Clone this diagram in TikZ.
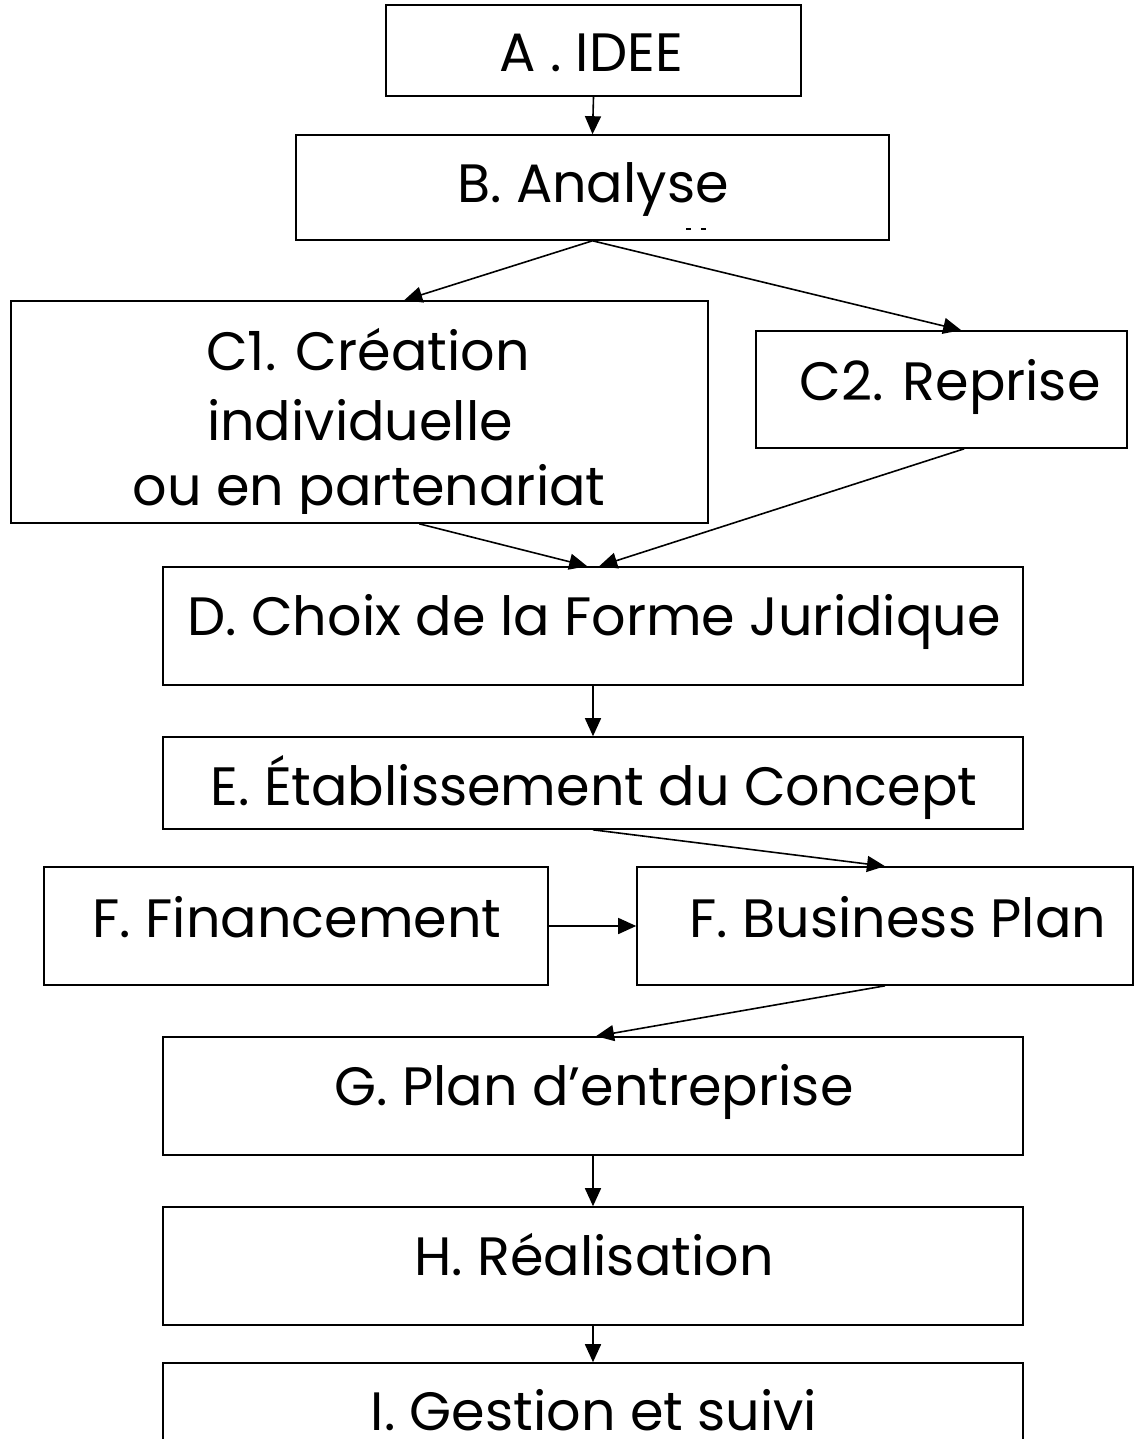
\documentclass[tikz,border=0pt]{standalone}
\usepackage{fontspec}
\setmainfont{Poppins}
\usetikzlibrary{arrows.meta}
\begin{document}
\begin{tikzpicture}[x=1pt,y=-1pt,
  box/.style={draw, line width=1.6pt, rectangle, inner sep=0pt},
  lbl/.style={anchor=base, inner sep=0pt, font=\fontsize{54}{64}\selectfont},
  arr/.style={line width=1.6pt, -{Triangle[length=18pt,width=16pt]}},
  tick/.style={line width=2pt}]
\useasboundingbox (0,0) rectangle (1135,1439);
\clip (0,0) rectangle (1135,1439);
% boxes
\node[box, minimum width=415pt, minimum height=91pt] (A) at (593.5,50.5) {};
\node[box, minimum width=593pt, minimum height=105pt] (B) at (592.5,187.5) {};
\node[box, minimum width=697pt, minimum height=222pt] (C1) at (359.5,412) {};
\node[box, minimum width=371pt, minimum height=117pt] (C2) at (941.5,389.5) {};
\node[box, minimum width=860pt, minimum height=118pt] (D) at (593,626) {};
\node[box, minimum width=860pt, minimum height=92pt] (E) at (593,783) {};
\node[box, minimum width=504pt, minimum height=118pt] (Fin) at (296,926) {};
\node[box, minimum width=496pt, minimum height=118pt] (BP) at (885,926) {};
\node[box, minimum width=860pt, minimum height=118pt] (G) at (593,1096) {};
\node[box, minimum width=860pt, minimum height=118pt] (H) at (593,1266) {};
\node[box, minimum width=860pt, minimum height=118pt] (I) at (593,1422) {};
% texts
\node[lbl] (tA) at (591,72) {A . IDEE};
\node[lbl] (tB) at (593,203) {B. Analyse};
\begin{scope}
\clip (0,0) rectangle (1135,513);
\node[lbl] (tC1a) at (368,370) {C1. Création};
\node[lbl] (tC1b) at (360,440) {individuelle};
\node[lbl] (tC1c) at (369,505) {ou en partenariat};
\end{scope}
\node[lbl] (tC2) at (950,400) {C2. Reprise};
\node[lbl] (tD) at (594,635) {D. Choix de la Forme Juridique};
\node[lbl] (tE) at (594,805) {E. Établissement du Concept};
\node[lbl] (tFin) at (297,937) {F. Financement};
\node[lbl] (tBP) at (898,937) {F. Business Plan};
\node[lbl] (tG) at (594,1105) {G. Plan d’entreprise};
\node[lbl] (tH) at (594,1275) {H. Réalisation};
\node[lbl] (tI) at (594,1430) {I. Gestion et suivi};
% small marks under Analyse
\coordinate (m1) at (686,229);
\coordinate (m2) at (701,229);
\draw[tick] (m1) -- ++(5,0);
\draw[tick] (m2) -- ++(5,0);
% connectors
\draw[arr] (A.south) -- (B.north);
\draw[arr] (B.south) -- ([xshift=394pt]C1.north west);
\draw[arr] (B.south) -- ([xshift=206pt]C2.north west);
\draw[arr] ([xshift=409pt]C1.south west) -- ([xshift=425pt]D.north west);
\draw[arr] ([xshift=209pt]C2.south west) -- ([xshift=437pt]D.north west);
\draw[arr] (D.south) -- (E.north);
\draw[arr] (E.south) -- (BP.north);
\draw[arr] (Fin.east) -- (BP.west);
\draw[arr] (BP.south) -- ([xshift=3pt]G.north);
\draw[arr] (G.south) -- (H.north);
\draw[arr] (H.south) -- (I.north);
\end{tikzpicture}
\end{document}
